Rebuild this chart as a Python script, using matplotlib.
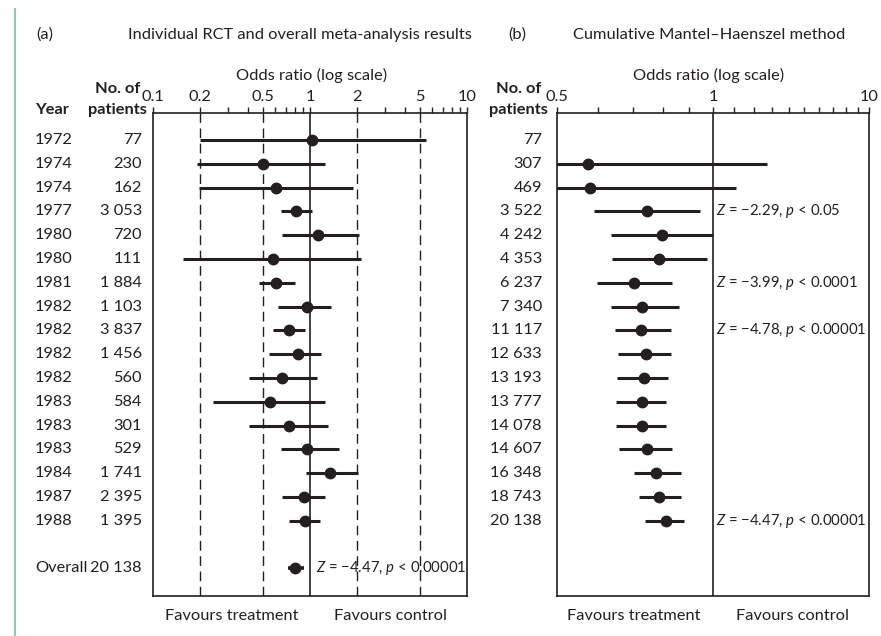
import numpy as np
import matplotlib
matplotlib.use("Agg")
import matplotlib.pyplot as plt
import matplotlib.transforms as mtransforms
from matplotlib.lines import Line2D
from matplotlib.ticker import FixedLocator, FixedFormatter, NullFormatter

plt.rcParams['font.family'] = ['Lato', 'DejaVu Sans']
plt.rcParams['mathtext.fontset'] = 'custom'
plt.rcParams['mathtext.rm'] = 'Lato'
plt.rcParams['mathtext.it'] = 'Lato:italic'

# ---- Panel (a): individual trials -------------------------------------
years = [1972, 1974, 1974, 1977, 1980, 1980, 1981, 1982, 1982, 1982, 1982,
         1983, 1983, 1983, 1984, 1987, 1988]
patients_a = ["77", "230", "162", "3 053", "720", "111", "1 884",
              "1 103", "3 837", "1 456", "560", "584", "301",
              "529", "1 741", "2 395", "1 395"]
or_a = [1.03, 0.50, 0.61, 0.81, 1.12, 0.58, 0.61, 0.96, 0.73, 0.84, 0.66,
        0.56, 0.73, 0.95, 1.34, 0.91, 0.93]
lo_a = [0.20, 0.19, 0.195, 0.65, 0.66, 0.156, 0.47, 0.63, 0.58, 0.55, 0.41,
        0.24, 0.41, 0.65, 0.94, 0.66, 0.73]
hi_a = [5.46, 1.24, 1.88, 1.03, 2.05, 2.10, 0.80, 1.37, 0.93, 1.17, 1.11,
        1.24, 1.30, 1.52, 2.02, 1.24, 1.16]

overall_label = "20 138"
overall_or = 0.80
overall_lo = 0.72
overall_hi = 0.92
overall_note = "$Z$ = \u22124.47, $p$ < 0.00001"

ticks_a = [0.1, 0.2, 0.5, 1, 2, 5, 10]
tick_labels_a = ["0.1", "0.2", "0.5", "1", "2", "5", "10"]
minor_a = [0.3, 0.4, 0.6, 0.7, 0.8, 0.9, 3, 4, 6, 7, 8, 9]
dashed_a = [0.2, 0.5, 2, 5]

# ---- Panel (b): cumulative Mantel-Haenszel -----------------------------
patients_b = ["77", "307", "469", "3 522", "4 242", "4 353",
              "6 237", "7 340", "11 117", "12 633",
              "13 193", "13 777", "14 078", "14 607",
              "16 348", "18 743", "20 138"]
or_b = [np.nan, 0.575, 0.579, 0.747, 0.799, 0.787, 0.706, 0.731, 0.728,
        0.742, 0.737, 0.729, 0.731, 0.745, 0.776, 0.787, 0.811]
lo_b = [np.nan, 0.45, 0.45, 0.590, 0.637, 0.640, 0.597, 0.637, 0.647,
        0.657, 0.654, 0.650, 0.650, 0.659, 0.706, 0.720, 0.740]
hi_b = [np.nan, 1.27, 1.106, 0.944, 1.0, 0.975, 0.832, 0.860, 0.829,
        0.829, 0.819, 0.813, 0.811, 0.835, 0.866, 0.866, 0.879]
notes_b = {3: "$Z$ = \u22122.29, $p$ < 0.05",
           6: "$Z$ = \u22123.99, $p$ < 0.0001",
           8: "$Z$ = \u22124.78, $p$ < 0.00001",
           16: "$Z$ = \u22124.47, $p$ < 0.00001"}

ticks_b = [0.5, 1, 2]
tick_labels_b = ["0.5", "1", "10"]
minor_b = [0.6, 0.7, 0.8, 0.9, 1.1, 1.2, 1.3, 1.4, 1.5, 1.6, 1.7, 1.8, 1.9]

# ---- figure -------------------------------------------------------------
W, H = 881, 636
fig = plt.figure(figsize=(W / 100, H / 100), dpi=100)
INK = "#231f20"
FS = 11.8
FS_NOTE = 10.7


def fx(px):
    return px / W


def fy(py):
    return 1 - py / H


def make_axes(left_px, right_px):
    ax = fig.add_axes([fx(left_px), fy(596), (right_px - left_px) / W,
                       (596 - 113) / H])
    ax.set_xscale("log")
    ax.set_ylim(19.16, -1.13)
    for s in ax.spines.values():
        s.set_linewidth(1.2)
        s.set_color(INK)
    ax.yaxis.set_visible(False)
    ax.xaxis.tick_top()
    ax.tick_params(axis="x", which="both", direction="out", length=4.5,
                   width=1.0, colors=INK, labelsize=FS, pad=2.0,
                   bottom=False, top=True)
    ax.xaxis.set_minor_formatter(NullFormatter())
    return ax


row_y = np.arange(len(years))
overall_y = 18

# Panel (a)
ax_a = make_axes(153, 467)
ax_a.set_xlim(0.1, 10)
ax_a.xaxis.set_major_locator(FixedLocator(ticks_a))
ax_a.xaxis.set_major_formatter(FixedFormatter(tick_labels_a))
ax_a.xaxis.set_minor_locator(FixedLocator(minor_a))
for v in dashed_a:
    ax_a.axvline(v, color=INK, lw=1.0, ls=(0, (7, 4)), zorder=1)
ax_a.axvline(1, color=INK, lw=1.2, zorder=1)
ax_a.hlines(row_y, lo_a, hi_a, color=INK, lw=2.2, zorder=3)
ax_a.plot(or_a, row_y, "o", color=INK, ms=7.5, zorder=4)
ax_a.hlines(overall_y, overall_lo, overall_hi, color=INK, lw=2.6, zorder=3)
ax_a.plot(overall_or, overall_y, "o", color=INK, ms=7.5, zorder=4)
ax_a.text(1.09, overall_y, overall_note, fontsize=FS_NOTE, color=INK,
          va="center", ha="left", zorder=0)

# Panel (b)
ax_b = make_axes(556.7, 869.3)
ax_b.set_xlim(0.5, 2)
ax_b.xaxis.set_major_locator(FixedLocator(ticks_b))
ax_b.xaxis.set_major_formatter(FixedFormatter(tick_labels_b))
ax_b.xaxis.set_minor_locator(FixedLocator(minor_b))
ax_b.axvline(1, color=INK, lw=1.2, zorder=1)
ax_b.hlines(row_y, lo_b, hi_b, color=INK, lw=2.2, zorder=3)
ax_b.plot(or_b, row_y, "o", color=INK, ms=7.5, zorder=4)
for r, note in notes_b.items():
    ax_b.text(1.012, r, note, fontsize=FS_NOTE, color=INK, va="center",
              ha="left", zorder=0)

# Row labels
tr_a = mtransforms.blended_transform_factory(fig.transFigure, ax_a.transData)
tr_b = mtransforms.blended_transform_factory(fig.transFigure, ax_b.transData)
for y, yr, n in zip(row_y, years, patients_a):
    fig.text(fx(35), y, str(yr), transform=tr_a, fontsize=FS, color=INK,
             va="center", ha="left")
    fig.text(fx(142), y, n, transform=tr_a, fontsize=FS, color=INK,
             va="center", ha="right")
fig.text(fx(35), overall_y, "Overall", transform=tr_a, fontsize=FS,
         color=INK, va="center", ha="left")
fig.text(fx(142), overall_y, overall_label, transform=tr_a, fontsize=FS,
         color=INK, va="center", ha="right")
for y, n in zip(row_y, patients_b):
    fig.text(fx(542), y, n, transform=tr_b, fontsize=FS, color=INK,
             va="center", ha="right")

# Column headers
fig.text(fx(35), fy(110), "Year", fontsize=FS, fontweight="bold",
         color=INK, va="center", ha="left")
fig.text(fx(140), fy(89), "No. of", fontsize=FS, fontweight="bold",
         color=INK, va="center", ha="right")
fig.text(fx(147), fy(110), "patients", fontsize=FS, fontweight="bold",
         color=INK, va="center", ha="right")
fig.text(fx(541), fy(89), "No. of", fontsize=FS, fontweight="bold",
         color=INK, va="center", ha="right")
fig.text(fx(548), fy(110), "patients", fontsize=FS, fontweight="bold",
         color=INK, va="center", ha="right")

# Axis titles
fig.text(fx(312), fy(75), "Odds ratio (log scale)", fontsize=FS,
         color=INK, va="center", ha="center")
fig.text(fx(709), fy(75), "Odds ratio (log scale)", fontsize=FS,
         color=INK, va="center", ha="center")

# Panel titles
fig.text(fx(36), fy(35), "(a)", fontsize=FS, color=INK, va="center",
         ha="left")
fig.text(fx(128), fy(35), "Individual RCT and overall meta-analysis results",
         fontsize=FS, color=INK, va="center", ha="left")
fig.text(fx(508), fy(35), "(b)", fontsize=FS, color=INK, va="center",
         ha="left")
fig.text(fx(573), fy(35), "Cumulative Mantel\u2013Haenszel method",
         fontsize=FS, color=INK, va="center", ha="left")

# Direction labels
for cx, label in [(232, "Favours treatment"), (390, "Favours control"),
                  (634, "Favours treatment"), (792, "Favours control")]:
    fig.text(fx(cx), fy(616), label, fontsize=FS, color=INK, va="center",
             ha="center")

# Margin rule
fig.add_artist(Line2D([fx(14.5), fx(14.5)], [fy(9), 0], color="#8ccbb0",
                      lw=1.6, transform=fig.transFigure))

fig.savefig("out.png", dpi=100)
